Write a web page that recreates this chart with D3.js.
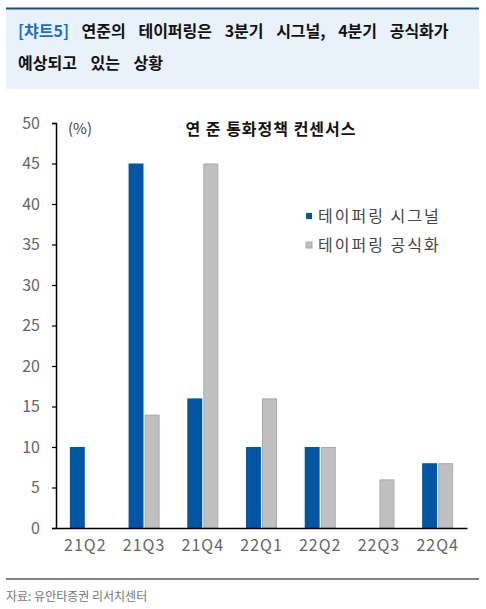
<!DOCTYPE html>
<html>
<head>
<meta charset="utf-8">
<script src="https://cdn.jsdelivr.net/npm/d3@7"></script>
<style>
  body { margin: 0; background: #fff; }
  text { font-family: "Noto Sans CJK KR", "Noto Sans", sans-serif; }
</style>
</head>
<body>
<div id="chart"></div>
<script>
// data
var quarters = ["21Q2", "21Q3", "21Q4", "22Q1", "22Q2", "22Q3", "22Q4"];
var signal = [10, 45, 16, 10, 10, 0, 8];     // 테이퍼링 시그널
var formal = [0, 14, 45, 16, 10, 6, 8];      // 테이퍼링 공식화
var seriesNames = ["테이퍼링 시그널", "테이퍼링 공식화"];
var yTicks = [0, 5, 10, 15, 20, 25, 30, 35, 40, 45, 50];

var W = 486, H = 609;
var svg = d3.select("#chart").append("svg")
  .attr("width", W).attr("height", H);

// header box
svg.append("rect").attr("x", 6).attr("y", 9).attr("width", 473).attr("height", 80)
  .attr("fill", "#e9f2fa");
svg.append("line").attr("x1", 6).attr("x2", 479).attr("y1", 8.5).attr("y2", 8.5)
  .attr("stroke", "#1f4e79").attr("stroke-width", 2);

var t1 = svg.append("text").attr("x", 18).attr("y", 37)
  .attr("font-size", 16).attr("font-weight", "bold").attr("word-spacing", 9);
t1.append("tspan").attr("fill", "#1f6fc0").text("[챠트5]");
t1.append("tspan").attr("fill", "#111").text(" 연준의 테이퍼링은 3분기 시그널, 4분기 공식화가");
svg.append("text").attr("x", 18).attr("y", 69)
  .attr("font-size", 16).attr("font-weight", "bold").attr("fill", "#111")
  .attr("word-spacing", 10)
  .text("예상되고 있는 상황");

// scales
var x0 = d3.scaleBand().domain(quarters).range([56, 467]);
var y = d3.scaleLinear().domain([0, 50]).range([528, 123]);
var x1 = d3.scaleBand().domain([0, 1]).range([0, 31]).paddingInner(0.07);

var groupStart = function(q) { return x0(q) + (x0.bandwidth() - 31) / 2; };

// bars
var g = svg.append("g");
g.selectAll(".sig").data(quarters).enter().append("rect")
  .attr("x", function(d) { return groupStart(d) + x1(0); })
  .attr("y", function(d, i) { return y(signal[i]); })
  .attr("width", x1.bandwidth())
  .attr("height", function(d, i) { return y(0) - y(signal[i]); })
  .attr("fill", "#0055a5");
g.selectAll(".frm").data(quarters).enter().append("rect")
  .filter(function(d, i) { return formal[i] > 0; })
  .attr("x", function(d) { return groupStart(d) + x1(1) + 0.5; })
  .attr("y", function(d) { return y(formal[quarters.indexOf(d)]) + 0.5; })
  .attr("width", x1.bandwidth() - 1)
  .attr("height", function(d) { return y(0) - y(formal[quarters.indexOf(d)]) - 0.5; })
  .attr("fill", "#c0c0c0").attr("stroke", "#a8a8a8").attr("stroke-width", 1);

// y axis
var yAxis = svg.append("g").attr("transform", "translate(56,0)")
  .call(d3.axisLeft(y).tickValues(yTicks).tickSize(4).tickPadding(12));
yAxis.select(".domain").attr("stroke", "#000").attr("stroke-width", 1.5);
yAxis.selectAll(".tick line").attr("stroke", "#000").attr("stroke-width", 1.2);
yAxis.selectAll(".tick text").attr("font-family", "Liberation Sans, Arial, sans-serif")
  .attr("font-size", 16).attr("fill", "#666");

// x axis
var xAxis = svg.append("g").attr("transform", "translate(0,528)")
  .call(d3.axisBottom(x0).tickSize(0).tickPadding(12));
xAxis.select(".domain").attr("stroke", "#000").attr("stroke-width", 1.5);
xAxis.selectAll(".tick text").attr("font-family", "Liberation Sans, Arial, sans-serif")
  .attr("font-size", 16).attr("fill", "#666").attr("letter-spacing", 1);

// unit and chart title
svg.append("text").attr("x", 68).attr("y", 134)
  .attr("font-family", "Liberation Sans, Arial, sans-serif")
  .attr("font-size", 15).attr("fill", "#444").text("(%)");
svg.append("text").attr("x", 271).attr("y", 135).attr("text-anchor", "middle")
  .attr("font-size", 16).attr("font-weight", "bold").attr("fill", "#111")
  .attr("letter-spacing", 1)
  .text("연 준 통화정책 컨센서스");

// legend
var legendColors = ["#0055a5", "#c0c0c0"];
var lg = svg.append("g").selectAll("g").data(seriesNames).enter().append("g")
  .attr("transform", function(d, i) { return "translate(306," + (213 + i * 29) + ")"; });
lg.append("rect").attr("width", 6).attr("height", 6)
  .attr("fill", function(d, i) { return legendColors[i]; })
  .attr("stroke", function(d, i) { return i ? "#a8a8a8" : "none"; });
lg.append("text").attr("x", 12).attr("y", 9).attr("font-size", 16).attr("fill", "#444")
  .attr("letter-spacing", 2)
  .text(function(d) { return d; });

// footer
svg.append("line").attr("x1", 6).attr("x2", 479).attr("y1", 579).attr("y2", 579)
  .attr("stroke", "#000").attr("stroke-width", 1);
svg.append("text").attr("x", 6).attr("y", 601).attr("font-size", 12).attr("fill", "#777")
  .text("자료: 유안타증권 리서치센터");
</script>
</body>
</html>
